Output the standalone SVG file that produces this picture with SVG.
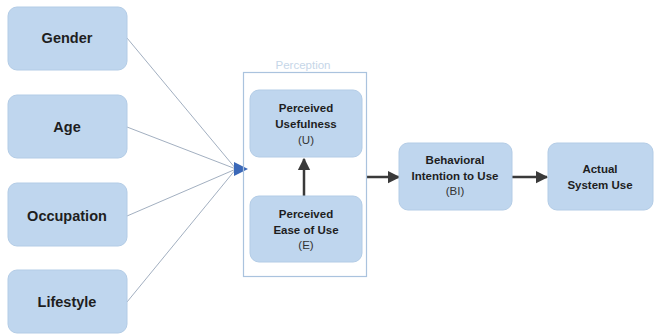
<svg xmlns="http://www.w3.org/2000/svg" width="655" height="334" viewBox="0 0 655 334">
<defs>
<style>
.node{fill:#bfd6ee;stroke:#b3cce6;stroke-width:1}
.t{font-family:"Liberation Sans",Arial,sans-serif;font-weight:bold;fill:#1e1e1e;text-anchor:middle}
.big{font-size:14.5px}
.sm{font-size:11.5px}
.p{font-weight:normal;fill:#333}
.thin{stroke:#8a9bb0;stroke-width:0.8;fill:none}
.thick{stroke:#3a3a3a;stroke-width:2.5;fill:none}
</style>
<marker id="ah" viewBox="0 0 10 10" refX="9" refY="5" markerWidth="5" markerHeight="5.5" orient="auto" markerUnits="strokeWidth">
<path d="M0,0 L10,5 L0,10 z" fill="#3a3a3a"/>
</marker>
</defs>
<rect width="655" height="334" fill="#ffffff"/>
<g id="connectors">
<line class="thin" x1="127" y1="38" x2="236" y2="169"/>
<line class="thin" x1="127" y1="127" x2="236" y2="169"/>
<line class="thin" x1="127" y1="216" x2="236" y2="169"/>
<line class="thin" x1="127" y1="302" x2="236" y2="169"/>
<path d="M234,162 L248,169 L234,176 z" fill="#3b68b8"/>
<line class="thick" x1="304" y1="196" x2="304" y2="159" marker-end="url(#ah)"/>
<line class="thick" x1="367" y1="177" x2="399" y2="177" marker-end="url(#ah)"/>
<line class="thick" x1="512" y1="177" x2="547" y2="177" marker-end="url(#ah)"/>
</g>
<g id="perception">
<rect x="243.5" y="72.5" width="123" height="204" fill="none" stroke="#aac3de" stroke-width="1.2"/>
<text x="303" y="69" font-family="'Liberation Sans',Arial,sans-serif" font-size="11.5" fill="#c6d6e8" text-anchor="middle">Perception</text>
</g>
<g id="gender">
<rect class="node" x="8" y="7" width="119" height="63" rx="9"/>
<text class="t big" x="67" y="43">Gender</text>
</g>
<g id="age">
<rect class="node" x="8" y="95" width="119" height="63" rx="9"/>
<text class="t big" x="67" y="132">Age</text>
</g>
<g id="occupation">
<rect class="node" x="8" y="183" width="119" height="63" rx="9"/>
<text class="t big" x="67" y="221">Occupation</text>
</g>
<g id="lifestyle">
<rect class="node" x="8" y="270" width="119" height="63" rx="9"/>
<text class="t big" x="67" y="307">Lifestyle</text>
</g>
<g id="usefulness">
<rect class="node" x="250" y="90" width="112" height="67" rx="9"/>
<text class="t sm" x="306" y="112">Perceived</text>
<text class="t sm" x="306" y="128">Usefulness</text>
<text class="t sm p" x="306" y="144">(U)</text>
</g>
<g id="ease">
<rect class="node" x="250" y="196" width="112" height="66" rx="9"/>
<text class="t sm" x="306" y="218">Perceived</text>
<text class="t sm" x="306" y="234">Ease of Use</text>
<text class="t sm p" x="306" y="249">(E)</text>
</g>
<g id="bi">
<rect class="node" x="399" y="143" width="113" height="67" rx="9"/>
<text class="t sm" x="455" y="164">Behavioral</text>
<text class="t sm" x="455" y="180">Intention to Use</text>
<text class="t sm p" x="455" y="195">(BI)</text>
</g>
<g id="actual">
<rect class="node" x="548" y="143" width="105" height="67" rx="9"/>
<text class="t sm" x="600" y="173">Actual</text>
<text class="t sm" x="600" y="189">System Use</text>
</g>
</svg>
